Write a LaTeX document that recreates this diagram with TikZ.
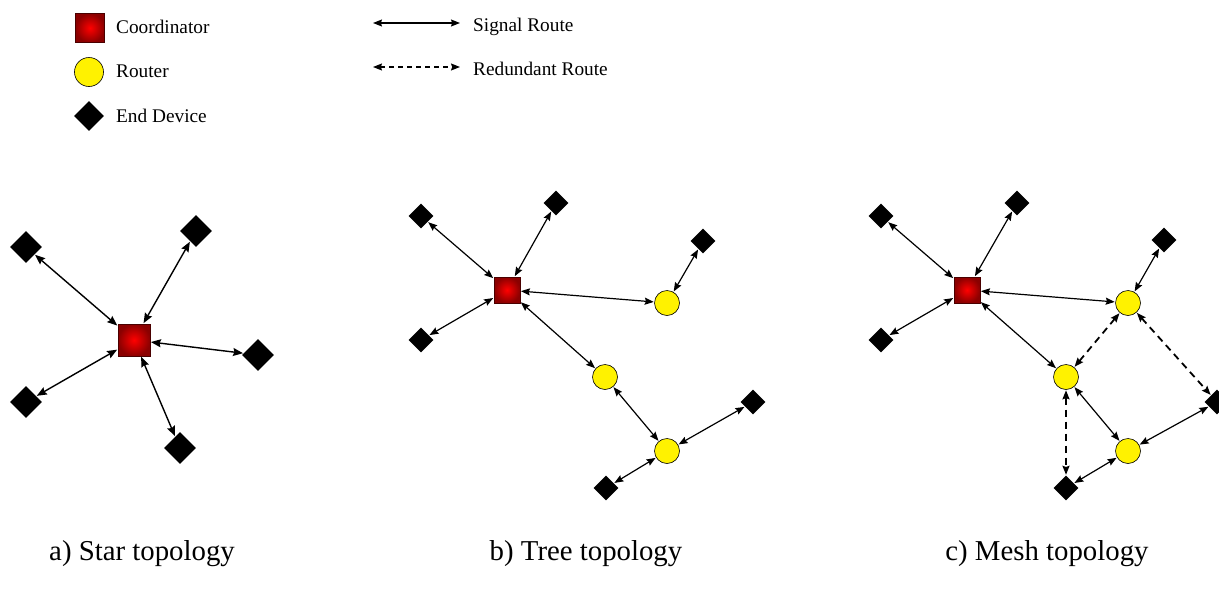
\documentclass[tikz,border=0pt]{standalone}
\usepackage{fontspec}
\setmainfont{Liberation Serif}
\usetikzlibrary{shapes.geometric,arrows.meta}
\definecolor{cdark}{HTML}{8A0000}
\definecolor{cedge}{HTML}{4A0000}
\tikzset{
  coord/.style={rectangle, draw=cedge, line width=0.8pt, inner sep=0pt, minimum size=#1, inner color=red, outer color=cdark},
  router/.style={circle, draw=black, line width=0.6pt, fill=yellow, inner sep=0pt, minimum size=#1},
  enddev/.style={diamond, fill=black, inner sep=0pt, minimum size=#1},
  mytip/.tip={Stealth[length=9pt,width=7pt,inset=1.2pt]},
  bigtip/.tip={Stealth[length=10pt,width=8pt,inset=1.3pt]},
  sig/.style={mytip-mytip, line width=1.2pt, shorten <=0.5pt, shorten >=0.5pt},
  redun/.style={mytip-mytip, line width=1.8pt, dash pattern=on 7pt off 5pt, shorten <=0.5pt, shorten >=0.5pt},
  lbl/.style={anchor=base west, inner sep=0pt, font=\fontsize{19.3}{22}\selectfont},
  captxt/.style={anchor=base, inner sep=0pt, font=\fontsize{28.8}{32}\selectfont}
}
\begin{document}
\begin{tikzpicture}[x=1pt,y=-1pt]
\useasboundingbox (0,0) rectangle (1219,592);
% legend
\node[coord=29pt] (lc) at (90,28) {};
\node[router=29pt] (lr) at (89,72) {};
\node[enddev=30pt] (le) at (89,116) {};
\node[lbl] (tc) at (116,33) {Coordinator};
\node[lbl] (tr) at (116,77) {Router};
\node[lbl] (te) at (116,122) {End Device};
\coordinate (s1) at (373,23);
\coordinate (s2) at (460,23);
\coordinate (r1) at (373,67);
\coordinate (r2) at (460,67);
\draw[mytip-mytip, line width=1.2pt] (s1) -- (s2);
\draw[mytip-mytip, line width=1.2pt, dash pattern=on 5pt off 4pt] (r1) -- (r2);
\node[lbl] (ts) at (473,31) {Signal Route};
\node[lbl] (trr) at (473,75) {Redundant Route};

% star
\node[coord=32pt] (a0) at (134,340) {};
\node[enddev=32pt] (a1) at (26,247) {};
\node[enddev=32pt] (a2) at (196,231) {};
\node[enddev=32pt] (a3) at (258,355) {};
\node[enddev=32pt] (a4) at (26,402) {};
\node[enddev=32pt] (a5) at (180,448) {};
\foreach \n in {a1,a2,a3,a4,a5} \draw[bigtip-bigtip, line width=1.4pt, shorten <=0.5pt, shorten >=0.5pt] (a0) -- (\n);

% tree
\node[coord=26pt] (b0) at (507,290) {};
\node[enddev=25pt] (b1) at (421,216) {};
\node[enddev=25pt] (b2) at (556,203) {};
\node[enddev=25pt] (b3) at (421,340) {};
\node[router=25pt] (bR1) at (667,303) {};
\node[enddev=25pt] (b4) at (703,241) {};
\node[router=25pt] (bR2) at (605,377) {};
\node[router=25pt] (bR3) at (667,451) {};
\node[enddev=25pt] (b5) at (753,402) {};
\node[enddev=25pt] (b6) at (606,488) {};
\draw[sig] (b0) -- (b1);
\draw[sig] (b0) -- (b2);
\draw[sig] (b0) -- (b3);
\draw[sig] (b0) -- (bR1);
\draw[sig] (bR1) -- (b4);
\draw[sig] (b0) -- (bR2);
\draw[sig] (bR2) -- (bR3);
\draw[sig] (bR3) -- (b5);
\draw[sig] (bR3) -- (b6);

% mesh
\node[coord=26pt] (c0) at (967,290) {};
\node[enddev=25pt] (c1) at (881,216) {};
\node[enddev=25pt] (c2) at (1017,203) {};
\node[enddev=25pt] (c3) at (881,340) {};
\node[router=25pt] (cR1) at (1128,303) {};
\node[enddev=25pt] (c4) at (1164,240) {};
\node[router=25pt] (cR2) at (1066,377) {};
\node[router=25pt] (cR3) at (1128,451) {};
\node[enddev=25pt] (c5) at (1217,402) {};
\node[enddev=25pt] (c6) at (1066,488) {};
\draw[sig] (c0) -- (c1);
\draw[sig] (c0) -- (c2);
\draw[sig] (c0) -- (c3);
\draw[sig] (c0) -- (cR1);
\draw[sig] (cR1) -- (c4);
\draw[sig] (c0) -- (cR2);
\draw[sig] (cR2) -- (cR3);
\draw[sig] (cR3) -- (c5);
\draw[sig] (cR3) -- (c6);
\draw[redun] (cR1) -- (cR2);
\draw[redun] (cR1) -- (c5);
\draw[redun] (cR2) -- (c6);

% captions
\node[captxt] (ca) at (142,560) {a) Star topology};
\node[captxt] (cb) at (586,560) {b) Tree topology};
\node[captxt] (cc) at (1047,560) {c) Mesh topology};
\end{tikzpicture}
\end{document}
